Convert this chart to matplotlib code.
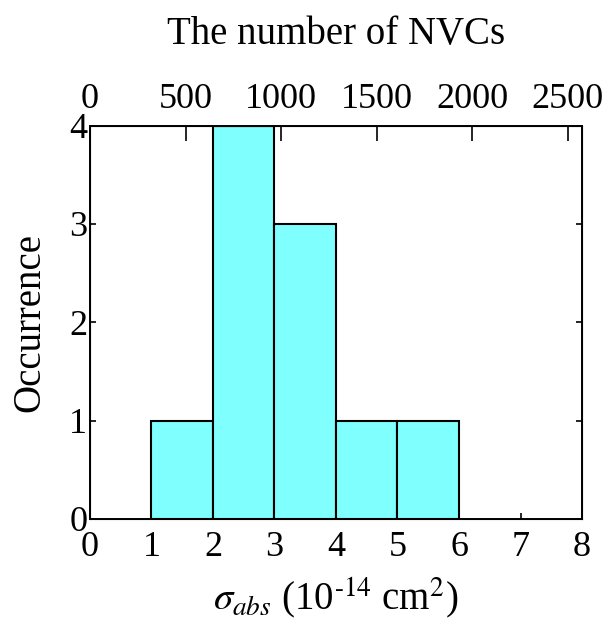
import matplotlib
matplotlib.use("Agg")
import matplotlib.pyplot as plt

plt.rcParams['font.family'] = ['Liberation Serif', 'DejaVu Serif']
plt.rcParams['mathtext.fontset'] = 'stix'

# histogram data
bin_left = [1, 2, 3, 4, 5]
counts = [1, 4, 3, 1, 1]
bottom_ticks = [0, 1, 2, 3, 4, 5, 6, 7, 8]
top_ticks = [0, 500, 1000, 1500, 2000, 2500]
y_ticks = [0, 1, 2, 3, 4]
nvc_per_unit = 321.8  # top axis scale (NVC number per 1e-14 cm^2)

fig = plt.figure(figsize=(6.12, 6.35), dpi=100)
ax = fig.add_axes([0.147, 0.183, 0.804, 0.619])

ax.bar(bin_left, counts, width=1, align='edge', color='#80ffff',
       edgecolor='black', linewidth=1.5)

ax.set_xlim(0, 8)
ax.set_ylim(0, 4)
ax.set_xticks(bottom_ticks)
ax.set_yticks(y_ticks)
ax.tick_params(direction='in', length=4.5, width=1.2, labelsize=26, pad=2,
               right=True)
ax.tick_params(axis='x', pad=9)
for s in ax.spines.values():
    s.set_linewidth(1.4)

ax.set_ylabel('Occurrence', fontsize=28, labelpad=15)
ax.set_xlabel(r'$\sigma_{abs}$ (10$^{\text{-}14}$ cm$^{2}$)', fontsize=28, labelpad=8)

top = ax.twiny()
top.set_xlim(0, 8 * nvc_per_unit)
top.set_xticks(top_ticks)
top.tick_params(direction='in', length=11, width=1.2, labelsize=26, pad=7)
top.set_xlabel('The number of NVCs', fontsize=28, labelpad=28)

fig.savefig('out.png', dpi=100)
